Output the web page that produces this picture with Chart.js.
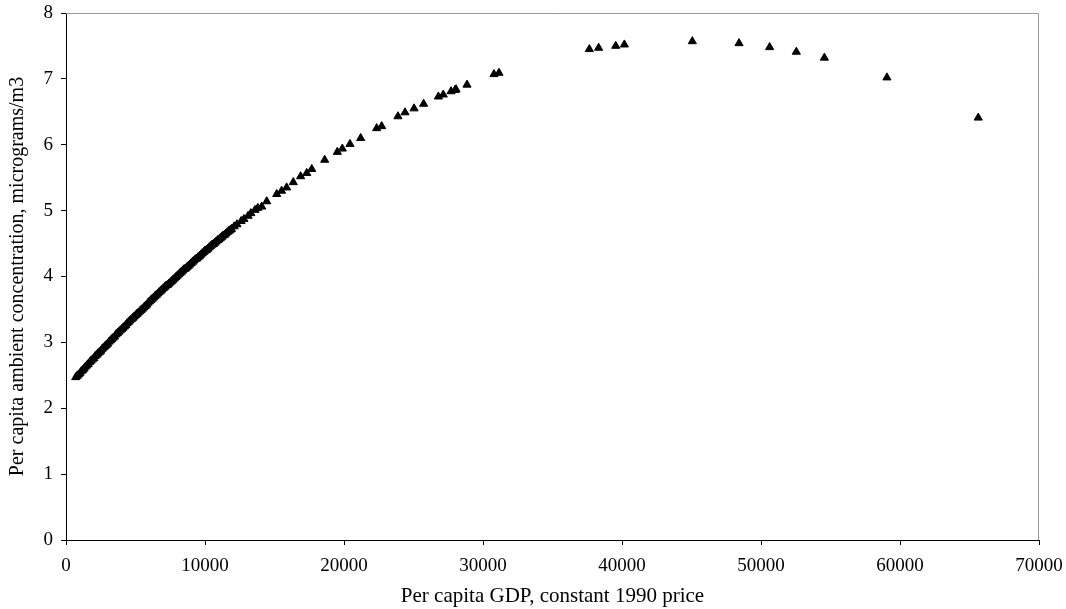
<!DOCTYPE html>
<html>
<head>
<meta charset="utf-8">
<script src="https://cdn.jsdelivr.net/npm/chart.js@4/dist/chart.umd.min.js"></script>
<style>
  html, body { margin: 0; padding: 0; background: #fff; }
  canvas { display: block; }
</style>
</head>
<body>
<canvas id="scatter" width="1066" height="609"></canvas>
<script>
// per capita GDP (constant 1990 price)
const gdp = [
  700, 800, 900, 1000, 1100, 1200, 1300, 1400, 1500, 1600,
  1700, 1800, 1900, 2000, 2100, 2200, 2300, 2400, 2500, 2600,
  2700, 2800, 2900, 3000, 3100, 3200, 3300, 3400, 3500, 3600,
  3700, 3800, 3900, 4000, 4100, 4200, 4300, 4400, 4500, 4600,
  4700, 4800, 4900, 5000, 5100, 5200, 5300, 5400, 5500, 5600,
  5700, 5800, 5900, 6000, 6100, 6200, 6300, 6400, 6500, 6600,
  6700, 6800, 6900, 7000, 7100, 7200, 7300, 7400, 7500, 7600,
  7700, 7800, 7900, 8000, 8100, 8200, 8300, 8400, 8500, 8600,
  8700, 8800, 8900, 9000, 9100, 9200, 9300, 9400, 9500, 9600,
  9700, 9800, 9900, 10000, 10100, 10200, 10300, 10400, 10500, 10600,
  10700, 10800, 10900, 11000, 11100, 11200, 11300, 11400, 11500, 11600,
  11700, 11800, 11900, 12100, 12300, 12600, 12800, 13100, 13300, 13600,
  13800, 14080, 14440, 15160, 15510, 15870, 16350, 16880, 17320, 17680,
  18610, 19520, 19880, 20430, 21200, 22350, 22710, 23880, 24390, 25040,
  25730, 26790, 27140, 27700, 27990, 28060, 28850, 30790, 31150, 37650,
  38320, 39550, 40170, 45060, 48420, 50620, 52540, 54560, 59060, 65630
];
// per capita ambient concentration, micrograms/m3
const concentration = [
  2.47, 2.49, 2.51, 2.53, 2.56, 2.58, 2.60, 2.63, 2.65, 2.67,
  2.70, 2.72, 2.74, 2.76, 2.79, 2.81, 2.83, 2.85, 2.87, 2.90,
  2.92, 2.94, 2.96, 2.98, 3.01, 3.03, 3.05, 3.07, 3.09, 3.12,
  3.14, 3.16, 3.18, 3.20, 3.22, 3.24, 3.26, 3.29, 3.31, 3.33,
  3.35, 3.37, 3.39, 3.41, 3.43, 3.45, 3.47, 3.49, 3.51, 3.53,
  3.55, 3.57, 3.60, 3.62, 3.64, 3.66, 3.68, 3.70, 3.72, 3.74,
  3.76, 3.78, 3.80, 3.82, 3.84, 3.86, 3.87, 3.89, 3.91, 3.93,
  3.95, 3.97, 3.99, 4.01, 4.03, 4.05, 4.07, 4.09, 4.11, 4.12,
  4.14, 4.16, 4.18, 4.20, 4.22, 4.24, 4.26, 4.27, 4.29, 4.31,
  4.33, 4.35, 4.37, 4.39, 4.40, 4.42, 4.44, 4.46, 4.48, 4.49,
  4.51, 4.53, 4.55, 4.56, 4.58, 4.60, 4.62, 4.63, 4.65, 4.67,
  4.69, 4.70, 4.72, 4.76, 4.79, 4.84, 4.87, 4.92, 4.96, 5.01,
  5.04, 5.06, 5.14, 5.25, 5.30, 5.35, 5.43, 5.52, 5.57, 5.63,
  5.77, 5.89, 5.94, 6.01, 6.10, 6.25, 6.28, 6.43, 6.49, 6.55,
  6.62, 6.73, 6.76, 6.81, 6.83, 6.84, 6.91, 7.07, 7.09, 7.45,
  7.47, 7.50, 7.52, 7.57, 7.54, 7.48, 7.41, 7.32, 7.02, 6.41
];

const xTitle = "Per capita GDP, constant 1990 price";
const yTitle = "Per capita ambient concentration, micrograms/m3";

const points = gdp.map((g, i) => ({ x: g, y: concentration[i] }));

const family = "'Liberation Serif', 'Times New Roman', serif";
const tickFont = { family: family, size: 19 };

// grey frame on top and right like the original
const frame = {
  id: "frame",
  afterDraw(chart) {
    const { ctx, chartArea: a } = chart;
    ctx.save();
    ctx.strokeStyle = "#999";
    ctx.lineWidth = 1;
    ctx.beginPath();
    ctx.moveTo(a.left, a.top + 0.5);
    ctx.lineTo(a.right - 0.5, a.top + 0.5);
    ctx.lineTo(a.right - 0.5, a.bottom);
    ctx.stroke();
    ctx.restore();
  }
};

new Chart(document.getElementById("scatter"), {
  type: "scatter",
  data: {
    datasets: [{
      data: points,
      pointStyle: "triangle",
      pointRadius: 4.7,
      pointBorderWidth: 1,
      pointBackgroundColor: "#000",
      pointBorderColor: "#000"
    }]
  },
  options: {
    responsive: false,
    animation: false,
    layout: { padding: { top: 13, right: 27, left: 0, bottom: 0 } },
    plugins: { legend: { display: false }, tooltip: { enabled: false } },
    scales: {
      x: {
        type: "linear",
        min: 0,
        max: 70000,
        afterFit: s => { s.height = 69; s.paddingLeft = 0; s.paddingRight = 0; },
        ticks: { stepSize: 10000, color: "#000", font: tickFont, padding: 10, maxRotation: 0,
                 callback: v => String(v) },
        grid: { drawOnChartArea: false, drawTicks: true, tickLength: 5, tickColor: "#000" },
        border: { color: "#000", width: 1 },
        title: { display: true, text: xTitle, color: "#000", font: { family: family, size: 21 },
                 padding: { top: 5, bottom: 0 } }
      },
      y: {
        min: 0,
        max: 8,
        afterFit: s => { s.width = 66; s.paddingTop = 0; s.paddingBottom = 0; },
        ticks: { stepSize: 1, color: "#000", font: tickFont, padding: 8 },
        grid: { drawOnChartArea: false, drawTicks: true, tickLength: 5, tickColor: "#000" },
        border: { color: "#000", width: 1 },
        title: { display: true, text: yTitle, color: "#000", font: { family: family, size: 20 },
                 padding: { top: 6, bottom: 0 } }
      }
    }
  },
  plugins: [frame]
});
</script>
</body>
</html>
